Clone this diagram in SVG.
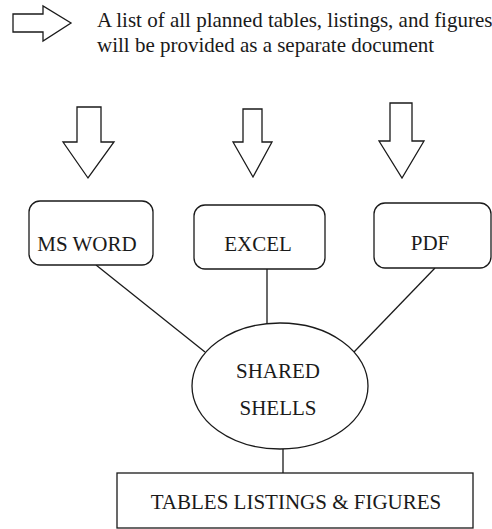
<svg xmlns="http://www.w3.org/2000/svg" width="492" height="529" viewBox="0 0 492 529">
<style>
.shape{fill:#fff;stroke:#1a1a1a;stroke-width:1.3}
.conn{stroke:#1a1a1a;stroke-width:1.3;fill:none}
.t{font-family:"Liberation Serif","Times New Roman",serif;fill:#1a1a1a}
.lbl{font-size:21px;text-anchor:middle}
</style>
<rect width="492" height="529" fill="#fff"/>
<g id="note">
<polygon class="shape" points="13,14 43,14 43,6 71,23 43,41 43,32 13,32"/>
<text class="t" x="97" y="27" font-size="21">A list of all planned tables, listings, and figures</text>
<text class="t" x="97" y="52" font-size="21">will be provided as a separate document</text>
</g>
<g id="arrow-word"><polygon class="shape" points="77,107 101,107 101,142 114,142 88,178 63,142 77,142"/></g>
<g id="arrow-excel"><polygon class="shape" points="243,109 262,109 262,142 272,142 253,177 233,142 243,142"/></g>
<g id="arrow-pdf"><polygon class="shape" points="390,103 412,103 412,141 424,141 402,178 379,141 390,141"/></g>
<g id="connectors">
<line class="conn" x1="96" y1="265" x2="205" y2="352"/>
<line class="conn" x1="267" y1="269" x2="267" y2="323"/>
<line class="conn" x1="435" y1="268" x2="354" y2="352"/>
<line class="conn" x1="283" y1="449" x2="283" y2="473"/>
</g>
<g id="msword">
<rect class="shape" x="29" y="201" width="124" height="64" rx="11"/>
<text class="t lbl" x="87" y="251" font-size="23">MS WORD</text>
</g>
<g id="excel">
<rect class="shape" x="194" y="205" width="131" height="64" rx="11"/>
<text class="t lbl" x="258" y="251" font-size="21.5">EXCEL</text>
</g>
<g id="pdf">
<rect class="shape" x="374" y="203" width="117" height="65" rx="11"/>
<text class="t lbl" x="430" y="250">PDF</text>
</g>
<g id="shared">
<ellipse class="shape" cx="280" cy="386" rx="88" ry="63"/>
<text class="t lbl" x="278" y="378">SHARED</text>
<text class="t lbl" x="278" y="415">SHELLS</text>
</g>
<g id="tlf">
<rect class="shape" x="117" y="473" width="356" height="55"/>
<text class="t lbl" x="296" y="509" font-size="21.5">TABLES LISTINGS &amp; FIGURES</text>
</g>
</svg>
